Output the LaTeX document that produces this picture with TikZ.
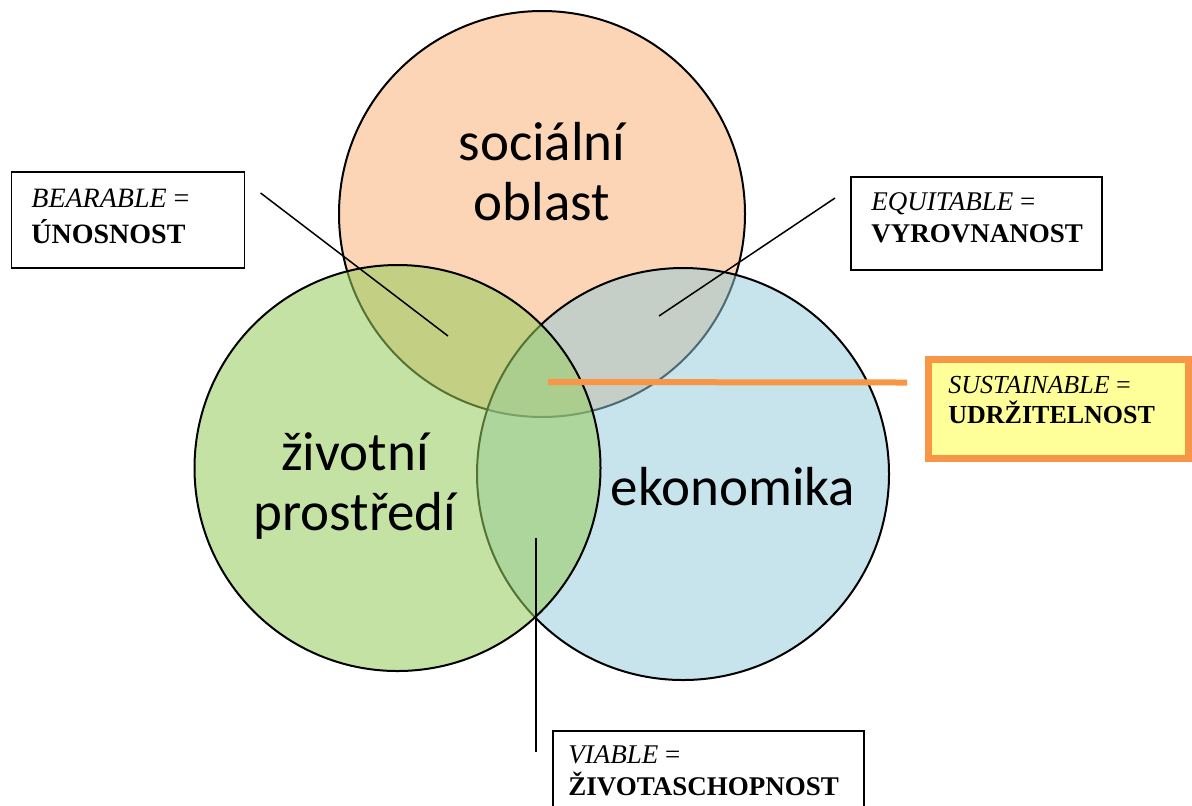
\documentclass[tikz,border=0pt]{standalone}
\usepackage{fontspec}
\setmainfont{Liberation Serif}
\newfontfamily\labelfont{Carlito}
\usetikzlibrary{calc}
\definecolor{socfill}{RGB}{251,213,181}
\definecolor{ecofill}{RGB}{149,203,218}
\definecolor{envfill}{RGB}{152,205,95}
\definecolor{boxorange}{RGB}{247,150,70}
\definecolor{boxyellow}{RGB}{255,255,153}
\begin{document}
\begin{tikzpicture}[x=0.5pt,y=-0.5pt,
  sphere/.style={circle, draw=black, line width=1pt, inner sep=0pt},
  biglabel/.style={font=\labelfont\fontsize{27.5}{30}\selectfont, align=center, anchor=base, inner sep=0pt},
  termbox/.style={draw=black, line width=0.8pt, anchor=north west, inner sep=0pt},
  termtext/.style={font=\fontsize{13.5}{16}\selectfont, align=left, anchor=base west, inner sep=0pt},
  pointer/.style={line width=0.75pt, draw=black}]
\useasboundingbox (0,0) rectangle (1192,805);
\clip (0,0) rectangle (1192,805);
\fill[white] (0,0) rectangle (1192,805);

% the three overlapping areas
\node[sphere, fill=socfill, minimum size=203pt] (soc) at (542,214) {};
\node[sphere, fill=ecofill, fill opacity=0.52, draw opacity=1, minimum size=206pt] (eco) at (683,474) {};
\node[sphere, fill=envfill, fill opacity=0.56, draw opacity=1, minimum size=203pt] (env) at (397.5,468) {};

% area names (anchored at the baseline of the last line)
\node[biglabel] (soctext) at (542,220) {sociální\\oblast};
\node[biglabel] (envtext) at (355,530) {životní\\prostředí};
\node[biglabel] (ecotext) at (733,505) {ekonomika};

% term boxes
\node[termbox, minimum width=116.5pt, minimum height=48pt] (bearbox) at (10.5,171) {};
\node[termtext, font=\fontsize{14}{18}\selectfont] (bear) at (31,243) {\textit{BEARABLE} =\\\textbf{ÚNOSNOST}};

\node[termbox, minimum width=125.5pt, minimum height=46.5pt] (eqbox) at (850,176) {};
\node[termtext] (eq) at (871,242) {\textit{EQUITABLE} =\\\textbf{VYROVNANOST}};

\node[termbox, draw=boxorange, line width=3.5pt, fill=boxyellow, minimum width=130pt, minimum height=49.5pt] (susbox) at (924.5,355.5) {};
\node[termtext, font=\fontsize{13}{15}\selectfont] (sus) at (948,423) {\textit{SUSTAINABLE} =\\\textbf{UDRŽITELNOST}};

\node[termbox, minimum width=155.5pt, minimum height=60pt] (viabox) at (552,730) {};
\node[termtext] (via) at (568,795) {\textit{VIABLE} =\\\textbf{ŽIVOTASCHOPNOST}};

% pointers into the overlaps
\coordinate (bearend) at (448,336);
\coordinate (eqend) at (659,316);
\coordinate (susend) at (548,382);
\coordinate (viaend) at (536,538);

\draw[pointer] ($(bearbox.north east)+(15.5,22)$) -- (bearend);
\draw[pointer] ($(eqbox.north west)+(-15,22)$) -- (eqend);
\draw[line width=3pt, draw=boxorange] ($(susbox.west)+(-17.5,-26)$) -- (susend);
\draw[pointer] ($(viabox.north west)+(-16,22)$) -- (viaend);
\end{tikzpicture}
\end{document}
